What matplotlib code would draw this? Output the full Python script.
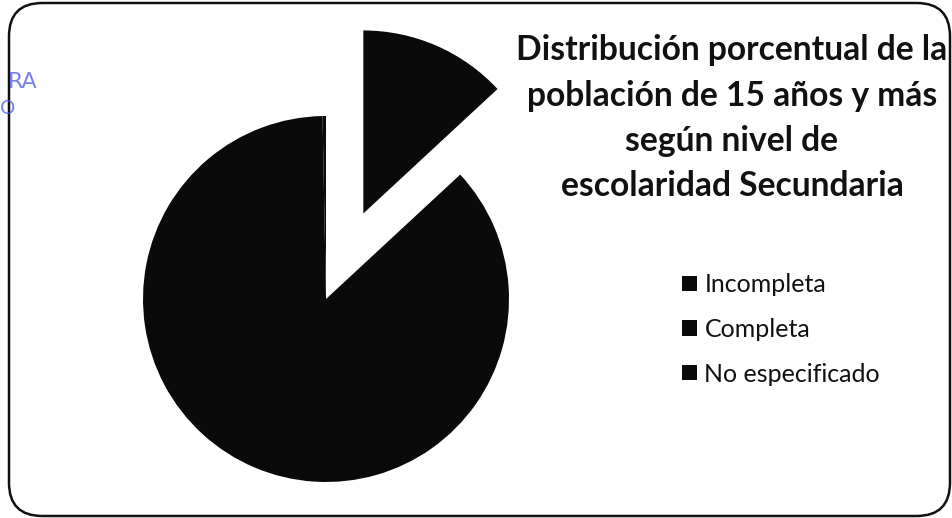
import matplotlib
matplotlib.use("Agg")
import matplotlib.pyplot as plt
from matplotlib.patches import FancyBboxPatch

categories = ["Incompleta", "Completa", "No especificado"]
values = [13.1, 86.6, 0.3]
explode = [0.51, 0, 0]
colors = ["#0a0a0a", "#0a0a0a", "#0a0a0a"]
title_lines = ["Distribución porcentual de la",
               "población de 15 años y más",
               "según nivel de",
               "escolaridad Secundaria"]

W, H = 953, 518
fig = plt.figure(figsize=(W / 100, H / 100), dpi=100)
fig.patch.set_facecolor("white")

# frame
frame = FancyBboxPatch((9 / W, 2 / H), (941) / W, (513) / H,
                       boxstyle="round,pad=0,rounding_size=0.035",
                       transform=fig.transFigure, fill=False,
                       edgecolor="#111111", linewidth=1.8,
                       mutation_aspect=W / H)
fig.patches.append(frame)

# pie axes: center (326, 299) px, radius 183 px
cx, cy, r = 326, H - 299, 183
span = 1.5
size = 2 * span * r
ax = fig.add_axes([(cx - span * r) / W, (cy - span * r) / H, size / W, size / H])
wedges, _ = ax.pie(values, explode=explode, colors=colors, startangle=90,
                   counterclock=False, radius=1.0,
                   wedgeprops=dict(linewidth=0))
ax.set_xlim(-span, span)
ax.set_ylim(-span, span)
ax.set_aspect("equal")
ax.axis("off")

# title
ys = [50, 96, 141, 186]
for line, y in zip(title_lines, ys):
    fig.text(732 / W, 1 - y / H, line, ha="center", va="center",
             fontsize=24.2, fontweight="bold", family="Lato", color="#111111")

# legend
fig.legend(wedges, categories, loc="upper left",
           bbox_to_anchor=(660 / W, 1 - 251 / H), frameon=False,
           prop=dict(family="Lato", size=18), handlelength=0.58,
           handleheight=0.58, handletextpad=0.3, labelspacing=0.86,
           labelcolor="#111111")

# stamp fragments
fig.text(8 / W, 1 - 82 / H, "RA", color="#4a5ae8", fontsize=16,
         ha="left", va="center", alpha=0.75, family="DejaVu Sans")
fig.text(0 / W, 1 - 108 / H, "O", color="#4a5ae8", fontsize=14,
         ha="left", va="center", alpha=0.75, family="DejaVu Sans")

fig.savefig("out.png", dpi=100)
